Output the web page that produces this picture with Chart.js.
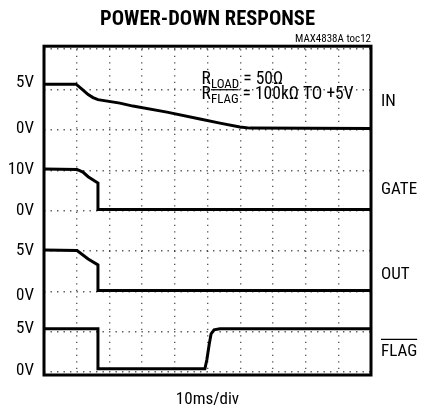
<!DOCTYPE html>
<html>
<head>
<meta charset="utf-8">
<script src="https://cdn.jsdelivr.net/npm/chart.js@4"></script>
<style>
  html, body { margin: 0; padding: 0; background: #fff; }
  #wrap { width: 430px; height: 413px; }
</style>
</head>
<body>
<div id="wrap"><canvas id="scope"></canvas></div>
<script>
var NARROW = "'Roboto Condensed', 'DejaVu Sans Condensed', sans-serif";

// time in ms (10ms/div), voltages in V
var inTime = [0, 9.8, 11.6, 13.5, 15.0, 16.5, 23.2, 27.2, 37.6, 47.7, 53.8, 59.9, 63.0, 100];
var inVolts = [5.67, 5.67, 5.05, 4.37, 4.0, 3.75, 3.32, 2.95, 2.20, 1.34, 0.84, 0.35, 0.22, 0.16];

var gateTime = [0, 10.1, 11.9, 13.5, 16.5, 16.5, 100];
var gateVolts = [10.3, 10.2, 9.55, 8.4, 6.83, 0.27, 0.27];

var outTime = [0, 10.1, 13.5, 16.5, 16.5, 100];
var outVolts = [5.12, 5.06, 4.0, 3.27, 0.11, 0.11];

var flagTime = [0, 16.5, 16.5, 49.2, 49.8, 50.5, 51.1, 52.0, 53.8, 100];
var flagVolts = [5.35, 5.35, 0.4, 0.4, 1.51, 3.37, 4.73, 5.22, 5.35, 5.35];

// channel zero row (division) and volts per division
var channels = [
  { name: 'IN', time: inTime, volts: inVolts, zero: 6, perDiv: 5 },
  { name: 'GATE', time: gateTime, volts: gateVolts, zero: 4, perDiv: 10 },
  { name: 'OUT', time: outTime, volts: outVolts, zero: 2, perDiv: 5 },
  { name: 'FLAG', time: flagTime, volts: flagVolts, zero: 0, perDiv: 5 }
];

var leftTickText = ['5V', '0V', '10V', '0V', '5V', '0V', '5V', '0V'];
var leftTickPos = [7.18, 6.02, 5.02, 4.0, 3.0, 1.9, 1.07, 0.03];
var rightTickText = ['IN', 'GATE', 'OUT', 'FLAG'];
var rightTickPos = [6.71, 4.51, 2.41, 0.5];

var datasets = channels.map(function(c) {
  return {
    label: c.name,
    data: c.time.map(function(t, i) {
      return { x: t, y: c.zero + c.volts[i] / c.perDiv };
    }),
    borderColor: '#000',
    borderWidth: 3,
    pointRadius: 0,
    tension: 0,
    fill: false
  };
});

function overline(ctx, x1, x2, y) {
  ctx.beginPath();
  ctx.moveTo(x1, y);
  ctx.lineTo(x2, y);
  ctx.lineWidth = 1.2;
  ctx.strokeStyle = '#000';
  ctx.stroke();
}

var scopeDecor = {
  id: 'scopeDecor',
  beforeDatasetsDraw: function(chart) {
    var a = chart.chartArea, ctx = chart.ctx;
    ctx.save();
    ctx.lineWidth = 3;
    ctx.strokeStyle = '#000';
    ctx.strokeRect(a.left, a.top - 3, a.right - a.left, a.bottom - a.top + 6);
    ctx.restore();
  },
  afterDraw: function(chart) {
    var ctx = chart.ctx, sx = chart.scales.x, sy = chart.scales.y;
    ctx.save();
    ctx.fillStyle = '#000';
    ctx.textBaseline = 'alphabetic';
    ctx.textAlign = 'left';
    var x0 = sx.getPixelForValue(48.2);
    var b1 = sy.getPixelForValue(7.14);
    var b2 = sy.getPixelForValue(6.76);
    var big = '17.5px ' + NARROW, small = '13px ' + NARROW;

    ctx.font = big;
    ctx.fillText('R', x0, b1);
    var x = x0 + ctx.measureText('R').width;
    ctx.font = small;
    ctx.fillText('LOAD', x, b1 + 4);
    x += ctx.measureText('LOAD').width;
    ctx.font = big;
    ctx.fillText(' = 50Ω', x, b1);

    ctx.fillText('R', x0, b2);
    x = x0 + ctx.measureText('R').width;
    ctx.font = small;
    ctx.fillText('FLAG', x, b2 + 4);
    var w = ctx.measureText('FLAG').width;
    overline(ctx, x, x + w, b2 - 9.5);
    x += w;
    ctx.font = big;
    ctx.fillText(' = 100kΩ TO +5V', x, b2);

    // overline on the right-hand FLAG label
    var r = chart.scales.rlab;
    ctx.font = '17px ' + NARROW;
    var fw = ctx.measureText('FLAG').width;
    var fy = r.getPixelForValue(rightTickPos[3]);
    overline(ctx, r.left + 10, r.left + 10 + fw, fy - 12.5);
    ctx.restore();
  }
};

var ctx = document.getElementById('scope').getContext('2d');
var chart = new Chart(ctx, {
  type: 'line',
  data: { datasets: datasets },
  plugins: [scopeDecor],
  options: {
    responsive: true,
    maintainAspectRatio: false,
    animation: false,
    layout: { padding: 0 },
    plugins: {
      legend: { display: false },
      tooltip: { enabled: false },
      title: {
        display: true,
        text: 'POWER-DOWN RESPONSE',
        fullSize: false,
        color: '#000',
        font: { family: NARROW, size: 20.5, weight: 'bold', lineHeight: 1.2 },
        padding: { top: 8, bottom: 0 }
      },
      subtitle: {
        display: true,
        text: 'MAX4838A toc12',
        fullSize: false,
        align: 'end',
        color: '#000',
        font: { family: NARROW, size: 11, lineHeight: 1.2 },
        padding: { top: 0, bottom: 3.4 }
      }
    },
    scales: {
      x: {
        type: 'linear',
        min: 0,
        max: 100,
        ticks: { display: false, stepSize: 10 },
        grid: { drawTicks: false, color: 'rgba(0,0,0,0.65)', lineWidth: 1.4 },
        border: { display: false, dash: [1.4, 5.1] },
        title: {
          display: true,
          text: '10ms/div',
          color: '#000',
          font: { family: NARROW, size: 17, lineHeight: 1.2 },
          padding: { top: 0, bottom: 3 }
        },
        afterFit: function(s) { s.height = 41; }
      },
      y: {
        min: 0,
        max: 8,
        position: 'left',
        ticks: { display: false, stepSize: 1 },
        grid: { drawTicks: false, color: 'rgba(0,0,0,0.65)', lineWidth: 1.4 },
        border: { display: false, dash: [1.4, 5.1] },
        afterFit: function(s) { s.width = 0; }
      },
      lab: {
        min: 0,
        max: 8,
        position: 'left',
        grid: { display: false, drawTicks: false },
        border: { display: false },
        ticks: {
          autoSkip: false,
          padding: 10,
          color: '#000',
          font: { family: NARROW, size: 17 },
          callback: function(v, i) { return leftTickText[i]; }
        },
        afterBuildTicks: function(s) {
          s.ticks = leftTickPos.map(function(v) { return { value: v }; });
        },
        afterFit: function(s) { s.width = 44; }
      },
      rlab: {
        min: 0,
        max: 8,
        position: 'right',
        grid: { display: false, drawTicks: false },
        border: { display: false },
        ticks: {
          autoSkip: false,
          padding: 10,
          color: '#000',
          font: { family: NARROW, size: 17 },
          callback: function(v, i) { return rightTickText[i]; }
        },
        afterBuildTicks: function(s) {
          s.ticks = rightTickPos.map(function(v) { return { value: v }; });
        },
        afterFit: function(s) { s.width = 59; }
      }
    }
  }
});
</script>
</body>
</html>
